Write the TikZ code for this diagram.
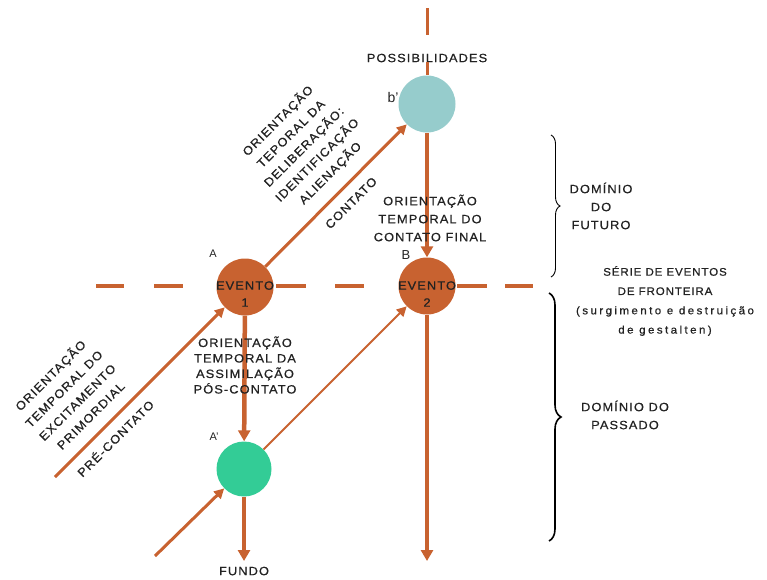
\documentclass[tikz,border=0pt]{standalone}
\usepackage{fontspec}
\setmainfont{Liberation Sans}
\newfontfamily\lsp[LetterSpace=9,FakeStretch=1.07,FakeBold=0.6]{Liberation Sans}
\newfontfamily\lspa[LetterSpace=8,FakeStretch=1.05,FakeBold=0.6]{Liberation Sans}
\newfontfamily\lspb[LetterSpace=22,FakeStretch=1.05,FakeBold=0.6]{Liberation Sans}
\usetikzlibrary{arrows.meta,decorations.pathreplacing}
\definecolor{org}{RGB}{200,98,48}
\definecolor{tealc}{RGB}{150,204,204}
\definecolor{grn}{RGB}{51,204,150}
\definecolor{ink}{RGB}{34,34,34}
\begin{document}
\begin{tikzpicture}[x=1pt,y=-1pt,
  ev/.style={circle,fill=org,minimum size=57pt,inner sep=0pt},
  txt/.style={font=\lsp\fontsize{12}{17}\selectfont,text=ink,align=center,inner sep=0pt},
  lab/.style={font=\fontsize{11}{13}\selectfont,text=ink,inner sep=0pt},
  dsh/.style={draw=org,line width=4pt},
  vln/.style={draw=org,line width=4.5pt},
  dln/.style={draw=org,line width=3pt},
  tln/.style={draw=org,line width=2pt},
  varr/.style={-{Triangle[length=11pt,width=12pt]}},
  darr/.style={-{Triangle[length=10pt,width=10pt]}},
  brc/.style={draw=black,decorate,decoration={brace,amplitude=#1}}]
\useasboundingbox (0,0) rectangle (767,579);

% horizontal dashed boundary line
\foreach \a/\b in {96/124,154/183,220/270,276/306,335/364,400/450,457/487,505/533}
  \draw[dsh] (\a,286) -- (\b,286);

% event circles
\node[ev] (e1) at (245,287) {};
\node[ev] (e2) at (427,286) {};
\node[ev,fill=tealc] (bp) at (427,104) {};
\node[ev,fill=grn,minimum size=55pt] (ap) at (244,469) {};

% top of right vertical axis
\coordinate (t1) at (427,8);
\coordinate (t2) at (427,35);
\draw[dln] (t1) -- (t2);
\node[txt] (poss) at (427,58) {POSSIBILIDADES};
\draw[dln] (poss.south) -- (bp);

% verticals
\draw[vln,varr] (bp) -- (e2);
\coordinate (e2end) at (427,561);
\draw[vln,varr] (e2) -- (e2end);
\draw[vln,varr] (e1) -- (ap);
\coordinate (apend) at (244,561);
\draw[vln,varr] (ap) -- (apend);

% diagonals
\draw[dln,darr] (e1) -- (bp);
\draw[tln,darr] (ap) -- (e2);
\coordinate (s1) at (55,477);
\draw[dln,darr] (s1) -- (e1);
\coordinate (s2) at (155,556);
\draw[dln,darr] (s2) -- (ap);

% labels
\node[lab,font=\fontsize{14}{15}\selectfont] (lbp) at (393,97) {b'};
\node[lab,font=\fontsize{11}{12}\selectfont] (la) at (213,254) {A};
\node[lab,font=\fontsize{13}{14}\selectfont] (lb) at (406,255) {B};
\node[lab,font=\fontsize{11}{12}\selectfont] (lap) at (214,437) {A'};
\node[txt] (t1txt) at (245,294) {EVENTO\\1};
\node[txt] (t2txt) at (427,294) {EVENTO\\2};
\node[txt,font=\lsp\fontsize{12}{18}\selectfont] (ocf) at (430,218) {ORIENTAÇÃO\\TEMPORAL DO\\CONTATO FINAL};
\node[txt,font=\lsp\fontsize{12}{15.5}\selectfont] (oap) at (245,365) {ORIENTAÇÃO\\TEMPORAL DA\\ASSIMILAÇÃO\\PÓS-CONTATO};
\node[txt] (fundo) at (244,571) {FUNDO};
\node[txt,rotate=45,font=\lsp\fontsize{12}{18.5}\selectfont] (odel) at (304,147) {ORIENTAÇÃO\\TEPORAL DA\\DELIBERAÇÃO:\\IDENTIFICAÇÃO\\ALIENAÇÃO};
\node[txt,rotate=45] (cont) at (351,203) {CONTATO};
\node[txt,rotate=45,font=\lsp\fontsize{12}{19}\selectfont] (oexc) at (70,395) {ORIENTAÇÃO\\TEMPORAL DO\\EXCITAMENTO\\PRIMORDIAL};
\node[txt,rotate=45] (pre) at (115,438) {PRÉ-CONTATO};

% right side
\coordinate (b1t) at (551,135);
\coordinate (b1b) at (551,277);
\draw[brc=9pt,line width=0.9pt] (b1t) -- (b1b);
\coordinate (b2t) at (549,293);
\coordinate (b2b) at (549,541);
\draw[brc=12pt,line width=1.6pt] (b2t) -- (b2b);
\node[txt,font=\lsp\fontsize{12}{18}\selectfont] (fut) at (601,206) {DOMÍNIO\\DO\\FUTURO};
\node[txt,font=\fontsize{11}{19.3}\selectfont] (serie) at (665,301) {{\lspa SÉRIE DE EVENTOS}\\{\lspa DE FRONTEIRA}\\{\lspb (surgimento e destruição}\\{\lspb de gestalten)}};
\node[txt,font=\lsp\fontsize{12}{18}\selectfont] (pas) at (625,415) {DOMÍNIO DO\\PASSADO};
\end{tikzpicture}
\end{document}
